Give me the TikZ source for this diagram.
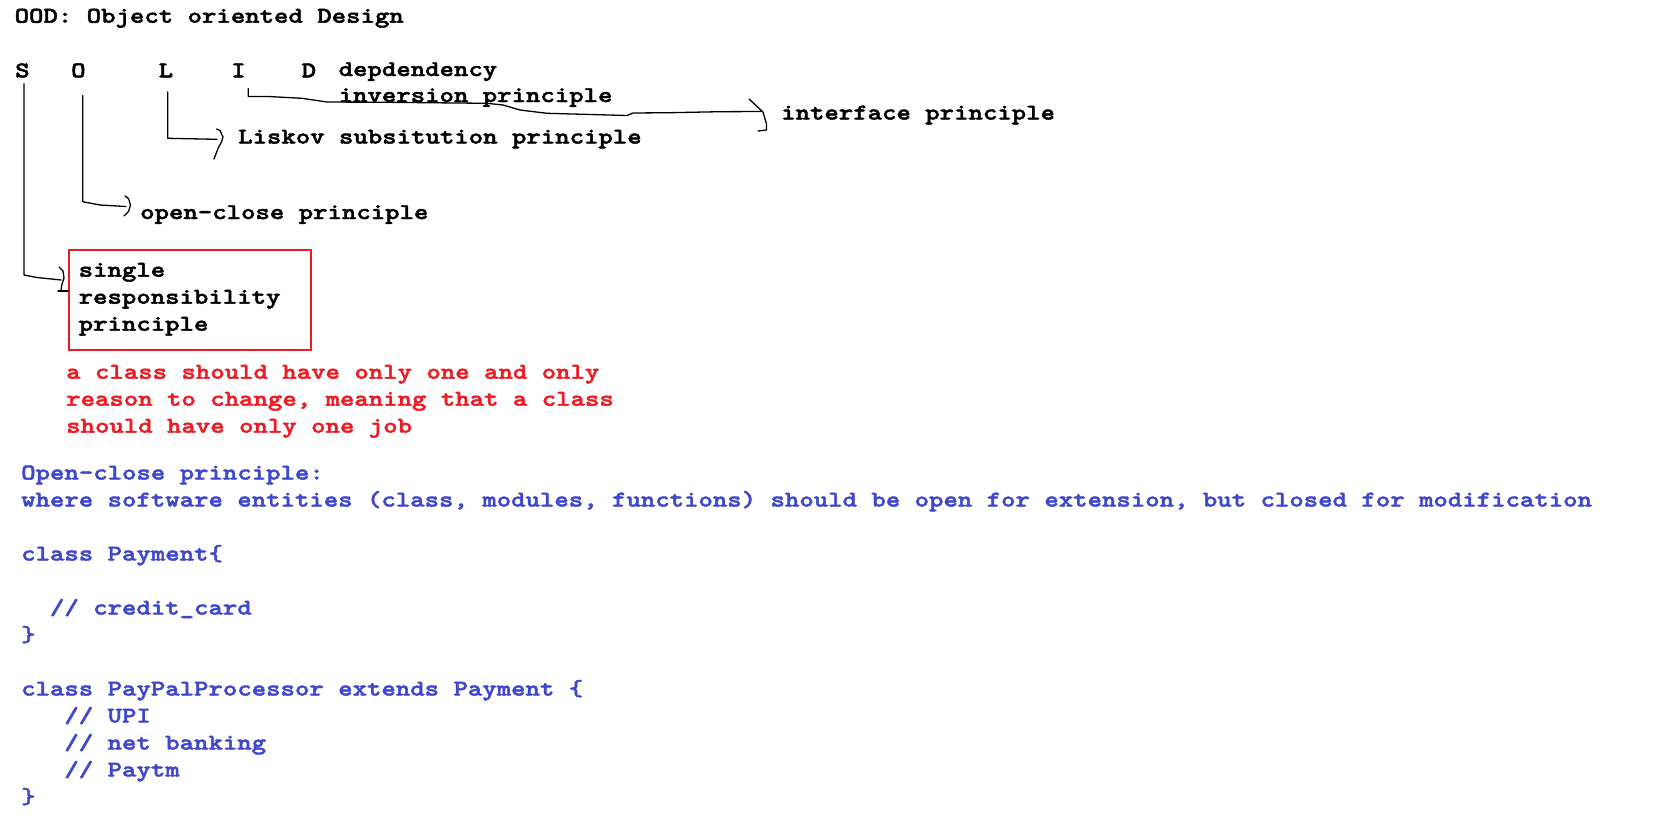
\documentclass[tikz,border=0pt]{standalone}
\usepackage{fontspec}
\newfontfamily\codefont{lmmonolt10-bold.otf}[FakeStretch=1.22,FakeBold=2]
\definecolor{paintblue}{HTML}{3F48CC}
\definecolor{paintred}{HTML}{ED1C24}
\newcommand\mytt{\codefont\fontsize{22.5}{27}\selectfont}
\tikzset{
  txt/.style={anchor=base west, inner sep=0pt, font=\mytt, text=black},
  redtxt/.style={txt, text=paintred},
  bluetxt/.style={txt, text=paintblue},
  conn/.style={draw=black, line width=1.3pt, line join=round, line cap=round},
  srpbox/.style={draw=paintred, line width=2pt, anchor=north west, inner sep=0pt,
                 minimum width=242pt, minimum height=100pt}
}
\begin{document}
\begin{tikzpicture}[x=1pt,y=-1pt]
\useasboundingbox[fill=white] (0,0) rectangle (1667,822);

% title
\node[txt] (ood) at (14.5,22.7) {OOD: Object oriented Design};

% SOLID letters
\node[txt] (S) at (15,77.3) {S};
\node[txt] (O) at (71,77.3) {O};
\node[txt] (L) at (158.5,77.3) {L};
\node[txt] (I) at (231,77.3) {I};
\node[txt] (D) at (301.5,77.3) {D};

% labels
\node[txt] (dep) at (338.5,76) {depdendency};
\node[txt] (inv) at (338.5,102) {inversion principle};
\node[txt] (iface) at (781,119.5) {interface principle};
\node[txt] (lsk) at (238,143.5) {Liskov subsitution principle};
\node[txt] (ocp) at (140,219) {open-close principle};

% single responsibility box
\node[srpbox] (srp) at (68,249) {};
\node[txt] (srp1) at (78.5,276.7) {single};
\node[txt] (srp2) at (78.5,303.7) {responsibility};
\node[txt] (srp3) at (78.5,330.7) {principle};

% red explanation
\node[redtxt] (r1) at (66,378.7) {a class should have only one and only};
\node[redtxt] (r2) at (66,405.7) {reason to change, meaning that a class};
\node[redtxt] (r3) at (66,432.7) {should have only one job};

% blue code
\node[bluetxt] (b1) at (21,479.5) {Open-close principle:};
\node[bluetxt] (b2) at (21,506.5) {where software entities (class, modules, functions) should be open for extension, but closed for modification};
\node[bluetxt] (b3) at (21,560.5) {class Payment\{};
\node[bluetxt] (b4) at (49.8,614.5) {// credit\_card};
\node[bluetxt] (b5) at (21,641.5) {\}};
\node[bluetxt] (b6) at (21,695.5) {class PayPalProcessor extends Payment \{};
\node[bluetxt] (b7) at (64.2,722.5) {// UPI};
\node[bluetxt] (b8) at (64.2,749.5) {// net banking};
\node[bluetxt] (b9) at (64.2,776.5) {// Paytm};
\node[bluetxt] (b10) at (21,803.5) {\}};

% connectors (hand drawn)
% S -> single responsibility
\coordinate (sEnd) at (61,280);
\draw[conn] (S.south -| 24,0) ++(0,6) -- (24,275) -- (37,277.5) -- (sEnd);
\draw[conn] (59,267) -- (63,271) -- (64,278) -- (62,284) -- (61,290);
\draw[conn] (58,291) -- (srp.west |- 0,291);

% O -> open-close
\coordinate (oEnd) at (126,206.5);
\draw[conn] (O.south -| 82.7,0) ++(0,17.7) -- (82.7,201.7) -- (100,205) -- (oEnd);
\draw[conn] (125,196) -- (128.5,198.5) -- (130.5,205) -- (128.5,211.5) -- (124,216);

% L -> Liskov
\coordinate (lEnd) at (217,139.3);
\draw[conn] (L.south -| 167.7,0) ++(0,14.4) -- (167.7,138.3) -- (lEnd);
\draw[conn] (216.5,129) -- (220,130.5) -- (223,137) -- (221.5,142) -- (218,148.5) -- (214,159);

% I -> interface
\coordinate (iEnd) at (762,111.5);
\draw[conn] (I.south -| 248.3,0) ++(0,11) -- (248.3,96.5) -- (268,96.5) -- (302,98.3) -- (327,102)
  -- (387,102.3) -- (487,103.3) -- (503,105) -- (520,110) -- (547,113.3) -- (627,115.5)
  -- (633,113) -- (670,112.7) -- (720,111.7) -- (iEnd);
\draw[conn] (749,99) -- (763,112) -- (766.5,124) -- (766.5,130) -- (758,131);
\end{tikzpicture}
\end{document}
